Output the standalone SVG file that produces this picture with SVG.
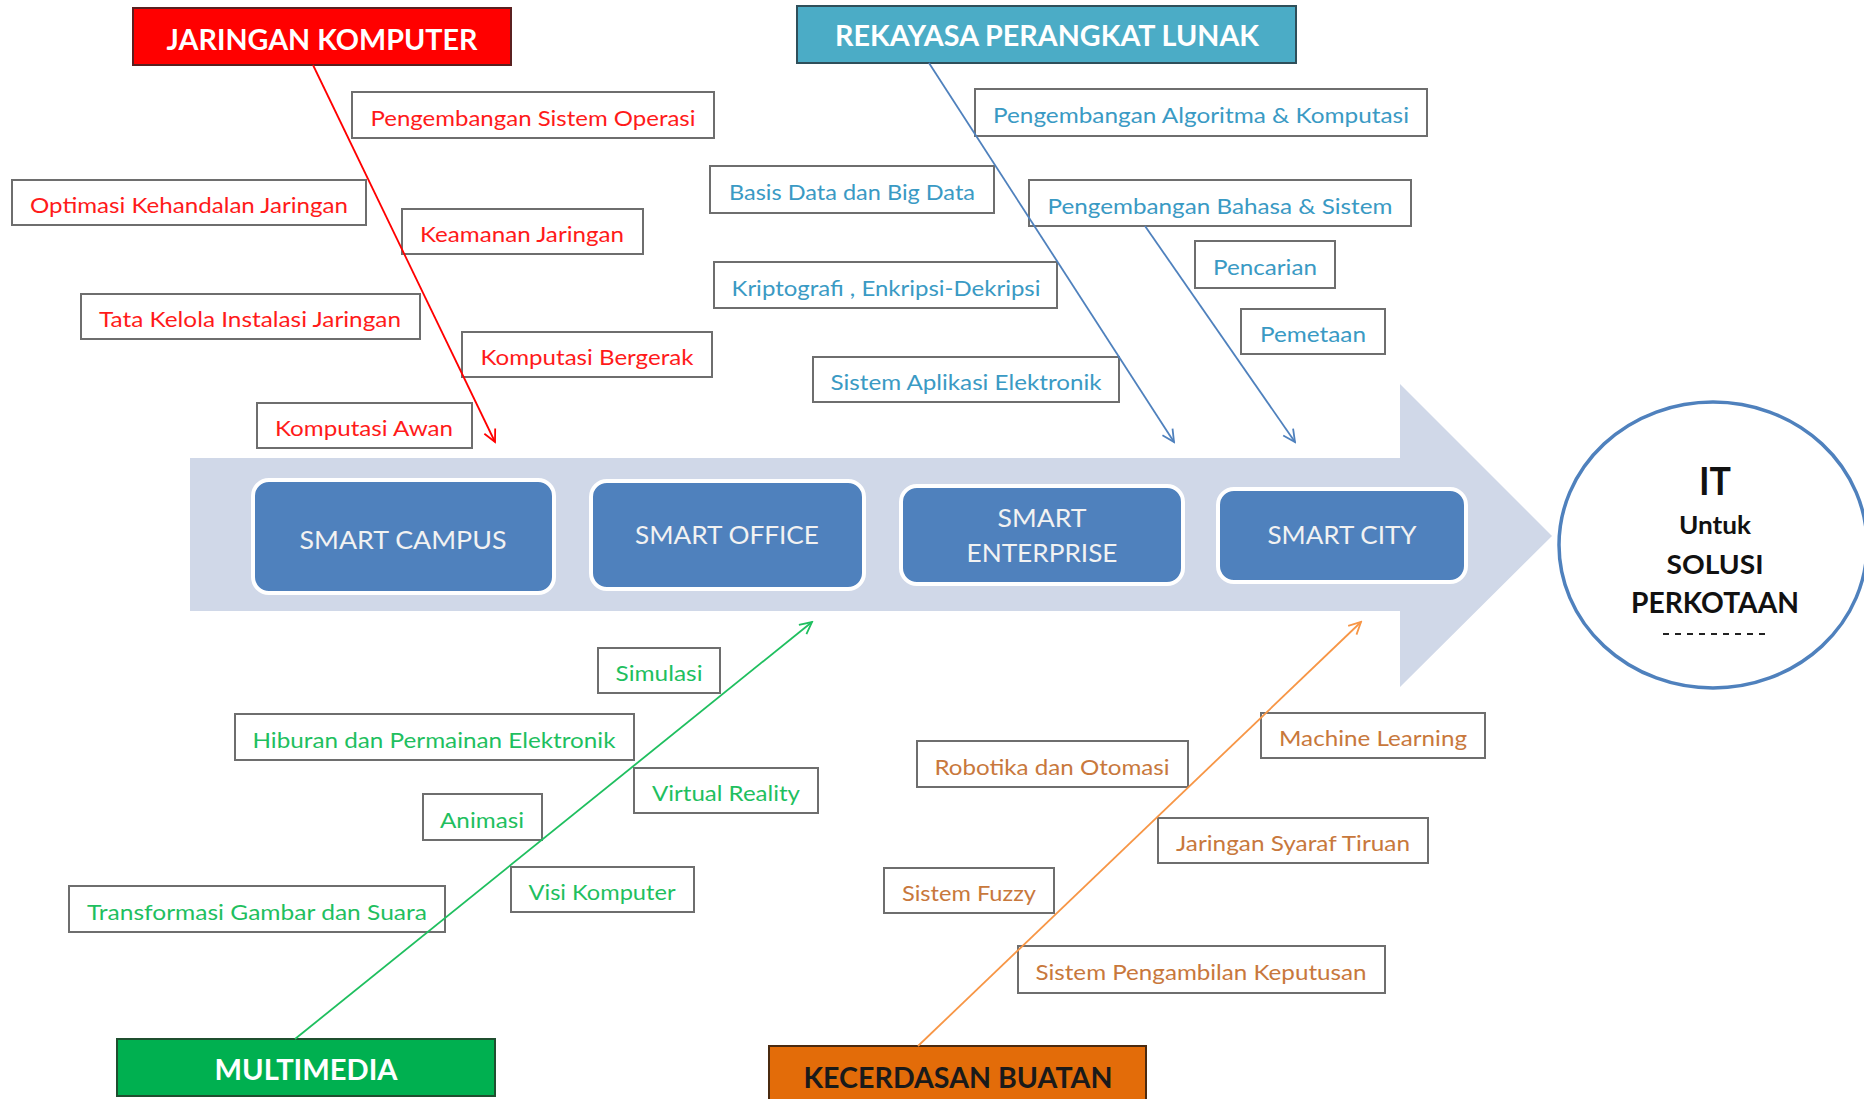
<svg xmlns="http://www.w3.org/2000/svg" width="1864" height="1099" viewBox="0 0 1864 1099">
<defs>
<style>
.item rect{fill:#fff;stroke:#6e6e6e;stroke-width:2}
.item text{font-family:Lato,"Liberation Sans",sans-serif;font-size:22px;text-anchor:middle}
.red text{fill:#ff1a1a}
.blue text{fill:#3a9ac4}
.green text{fill:#1fbf5f}
.orange text{fill:#c8783c}
.hdr text{font-family:Lato,"Liberation Sans",sans-serif;font-size:28px;font-weight:bold;text-anchor:middle}
.smart rect{fill:#4f81bd;stroke:#fff;stroke-width:4}
.smart text{font-family:Lato,"Liberation Sans",sans-serif;font-size:25px;fill:#f2f2f2;text-anchor:middle}
.conn line{stroke-width:1.8;fill:none}
.circ text{font-family:Lato,"Liberation Sans",sans-serif;font-weight:bold;fill:#111;text-anchor:middle}
</style>
<marker id="aR" markerWidth="16" markerHeight="16" refX="14" refY="8" orient="auto" markerUnits="userSpaceOnUse"><path d="M2,2 L14,8 L2,14" fill="none" stroke="#ff0000" stroke-width="1.8"/></marker>
<marker id="aB" markerWidth="16" markerHeight="16" refX="14" refY="8" orient="auto" markerUnits="userSpaceOnUse"><path d="M2,2 L14,8 L2,14" fill="none" stroke="#4f81bd" stroke-width="1.8"/></marker>
<marker id="aG" markerWidth="16" markerHeight="16" refX="14" refY="8" orient="auto" markerUnits="userSpaceOnUse"><path d="M2,2 L14,8 L2,14" fill="none" stroke="#1fbf5f" stroke-width="1.8"/></marker>
<marker id="aO" markerWidth="16" markerHeight="16" refX="14" refY="8" orient="auto" markerUnits="userSpaceOnUse"><path d="M2,2 L14,8 L2,14" fill="none" stroke="#f79646" stroke-width="1.8"/></marker>
</defs>
<rect width="1864" height="1099" fill="#fff"/>

<g id="spine"><polygon points="190,458 1400,458 1400,384 1552,536 1400,687 1400,611 190,611" fill="#d0d8e8"/></g>

<g id="smart-campus" class="smart"><rect x="253" y="480" width="301" height="113" rx="16"/><text x="403" y="549" textLength="207" lengthAdjust="spacingAndGlyphs">SMART CAMPUS</text></g>
<g id="smart-office" class="smart"><rect x="591" y="481" width="273" height="108" rx="16"/><text x="727" y="544" textLength="184" lengthAdjust="spacingAndGlyphs">SMART OFFICE</text></g>
<g id="smart-enterprise" class="smart"><rect x="901" y="486" width="282" height="98" rx="16"/><text x="1042" y="527" textLength="89" lengthAdjust="spacingAndGlyphs">SMART</text><text x="1042" y="562" textLength="151" lengthAdjust="spacingAndGlyphs">ENTERPRISE</text></g>
<g id="smart-city" class="smart"><rect x="1218" y="489" width="248" height="93" rx="16"/><text x="1342" y="544" textLength="149" lengthAdjust="spacingAndGlyphs">SMART CITY</text></g>

<g id="r1" class="item red"><rect x="352" y="92" width="362" height="46"/><text x="533" y="126" textLength="325" lengthAdjust="spacingAndGlyphs">Pengembangan Sistem Operasi</text></g>
<g id="r2" class="item red"><rect x="12" y="180" width="354" height="45"/><text x="189" y="213" textLength="318" lengthAdjust="spacingAndGlyphs">Optimasi Kehandalan Jaringan</text></g>
<g id="r3" class="item red"><rect x="402" y="209" width="241" height="45"/><text x="522" y="242" textLength="204" lengthAdjust="spacingAndGlyphs">Keamanan Jaringan</text></g>
<g id="r4" class="item red"><rect x="81" y="294" width="339" height="45"/><text x="250" y="327" textLength="302" lengthAdjust="spacingAndGlyphs">Tata Kelola Instalasi Jaringan</text></g>
<g id="r5" class="item red"><rect x="462" y="332" width="250" height="45"/><text x="587" y="365" textLength="213" lengthAdjust="spacingAndGlyphs">Komputasi Bergerak</text></g>
<g id="r6" class="item red"><rect x="257" y="403" width="215" height="45"/><text x="364" y="436" textLength="178" lengthAdjust="spacingAndGlyphs">Komputasi Awan</text></g>

<g id="b1" class="item blue"><rect x="975" y="89" width="452" height="47"/><text x="1201" y="123" textLength="416" lengthAdjust="spacingAndGlyphs">Pengembangan Algoritma &amp; Komputasi</text></g>
<g id="b2" class="item blue"><rect x="710" y="166" width="284" height="47"/><text x="852" y="200" textLength="246" lengthAdjust="spacingAndGlyphs">Basis Data dan Big Data</text></g>
<g id="b3" class="item blue"><rect x="1029" y="180" width="382" height="46"/><text x="1220" y="214" textLength="345" lengthAdjust="spacingAndGlyphs">Pengembangan Bahasa &amp; Sistem</text></g>
<g id="b4" class="item blue"><rect x="1195" y="241" width="140" height="47"/><text x="1265" y="275" textLength="104" lengthAdjust="spacingAndGlyphs">Pencarian</text></g>
<g id="b5" class="item blue"><rect x="714" y="262" width="343" height="46"/><text x="886" y="296" textLength="309" lengthAdjust="spacingAndGlyphs">Kriptografi , Enkripsi-Dekripsi</text></g>
<g id="b6" class="item blue"><rect x="1241" y="309" width="144" height="45"/><text x="1313" y="342" textLength="106" lengthAdjust="spacingAndGlyphs">Pemetaan</text></g>
<g id="b7" class="item blue"><rect x="813" y="357" width="306" height="45"/><text x="966" y="390" textLength="271" lengthAdjust="spacingAndGlyphs">Sistem Aplikasi Elektronik</text></g>

<g id="g1" class="item green"><rect x="598" y="648" width="122" height="45"/><text x="659" y="681" textLength="87" lengthAdjust="spacingAndGlyphs">Simulasi</text></g>
<g id="g2" class="item green"><rect x="235" y="714" width="399" height="46"/><text x="434" y="748" textLength="363" lengthAdjust="spacingAndGlyphs">Hiburan dan Permainan Elektronik</text></g>
<g id="g3" class="item green"><rect x="634" y="768" width="184" height="45"/><text x="726" y="801" textLength="148" lengthAdjust="spacingAndGlyphs">Virtual Reality</text></g>
<g id="g4" class="item green"><rect x="423" y="794" width="119" height="46"/><text x="482" y="828" textLength="84" lengthAdjust="spacingAndGlyphs">Animasi</text></g>
<g id="g5" class="item green"><rect x="511" y="867" width="183" height="45"/><text x="602" y="900" textLength="147" lengthAdjust="spacingAndGlyphs">Visi Komputer</text></g>
<g id="g6" class="item green"><rect x="69" y="886" width="376" height="46"/><text x="257" y="920" textLength="340" lengthAdjust="spacingAndGlyphs">Transformasi Gambar dan Suara</text></g>

<g id="o1" class="item orange"><rect x="917" y="741" width="271" height="46"/><text x="1052" y="775" textLength="235" lengthAdjust="spacingAndGlyphs">Robotika dan Otomasi</text></g>
<g id="o2" class="item orange"><rect x="1261" y="713" width="224" height="45"/><text x="1373" y="746" textLength="188" lengthAdjust="spacingAndGlyphs">Machine Learning</text></g>
<g id="o3" class="item orange"><rect x="1158" y="818" width="270" height="45"/><text x="1293" y="851" textLength="234" lengthAdjust="spacingAndGlyphs">Jaringan Syaraf Tiruan</text></g>
<g id="o4" class="item orange"><rect x="884" y="868" width="170" height="45"/><text x="969" y="901" textLength="134" lengthAdjust="spacingAndGlyphs">Sistem Fuzzy</text></g>
<g id="o5" class="item orange"><rect x="1018" y="946" width="367" height="47"/><text x="1201" y="980" textLength="331" lengthAdjust="spacingAndGlyphs">Sistem Pengambilan Keputusan</text></g>

<g id="h-jaringan" class="hdr"><rect x="133" y="8" width="378" height="57" fill="#ff0000" stroke="#5a2020" stroke-width="2"/><text x="322" y="50" fill="#fff" textLength="311" lengthAdjust="spacingAndGlyphs">JARINGAN KOMPUTER</text></g>
<g id="h-rekayasa" class="hdr"><rect x="797" y="6" width="499" height="57" fill="#4bacc6" stroke="#2f4f5a" stroke-width="2"/><text x="1047" y="46" fill="#fff" textLength="424" lengthAdjust="spacingAndGlyphs">REKAYASA PERANGKAT LUNAK</text></g>
<g id="h-multimedia" class="hdr"><rect x="117" y="1039" width="378" height="57" fill="#00b050" stroke="#1f4f2f" stroke-width="2"/><text x="306" y="1080" fill="#fff" textLength="183" lengthAdjust="spacingAndGlyphs">MULTIMEDIA</text></g>
<g id="h-kecerdasan" class="hdr"><rect x="769" y="1046" width="377" height="64" fill="#e36c09" stroke="#4a2a10" stroke-width="2"/><text x="958" y="1088" fill="#1a1a1a" textLength="309" lengthAdjust="spacingAndGlyphs">KECERDASAN BUATAN</text></g>

<g id="connectors" class="conn">
<line x1="313" y1="65" x2="495" y2="442" stroke="#ff0000" marker-end="url(#aR)"/>
<line x1="929" y1="63" x2="1174" y2="442" stroke="#4f81bd" marker-end="url(#aB)"/>
<line x1="1145" y1="226" x2="1295" y2="442" stroke="#4f81bd" marker-end="url(#aB)"/>
<line x1="295" y1="1039" x2="812" y2="622" stroke="#1fbf5f" marker-end="url(#aG)"/>
<line x1="918" y1="1046" x2="1361" y2="622" stroke="#f79646" marker-end="url(#aO)"/>
</g>

<g id="goal" class="circ">
<ellipse cx="1713" cy="545" rx="154" ry="143" fill="#fff" stroke="#4f81bd" stroke-width="3.5"/>
<text x="1715" y="495" font-size="38" textLength="32" lengthAdjust="spacingAndGlyphs">IT</text>
<text x="1715" y="534" font-size="24" textLength="72" lengthAdjust="spacingAndGlyphs">Untuk</text>
<text x="1715" y="574" font-size="27" textLength="97" lengthAdjust="spacingAndGlyphs">SOLUSI</text>
<text x="1715" y="613" font-size="28" textLength="168" lengthAdjust="spacingAndGlyphs">PERKOTAAN</text>
<line x1="1663" y1="634" x2="1768" y2="634" stroke="#222" stroke-width="2" stroke-dasharray="6,6"/>
</g>
</svg>
